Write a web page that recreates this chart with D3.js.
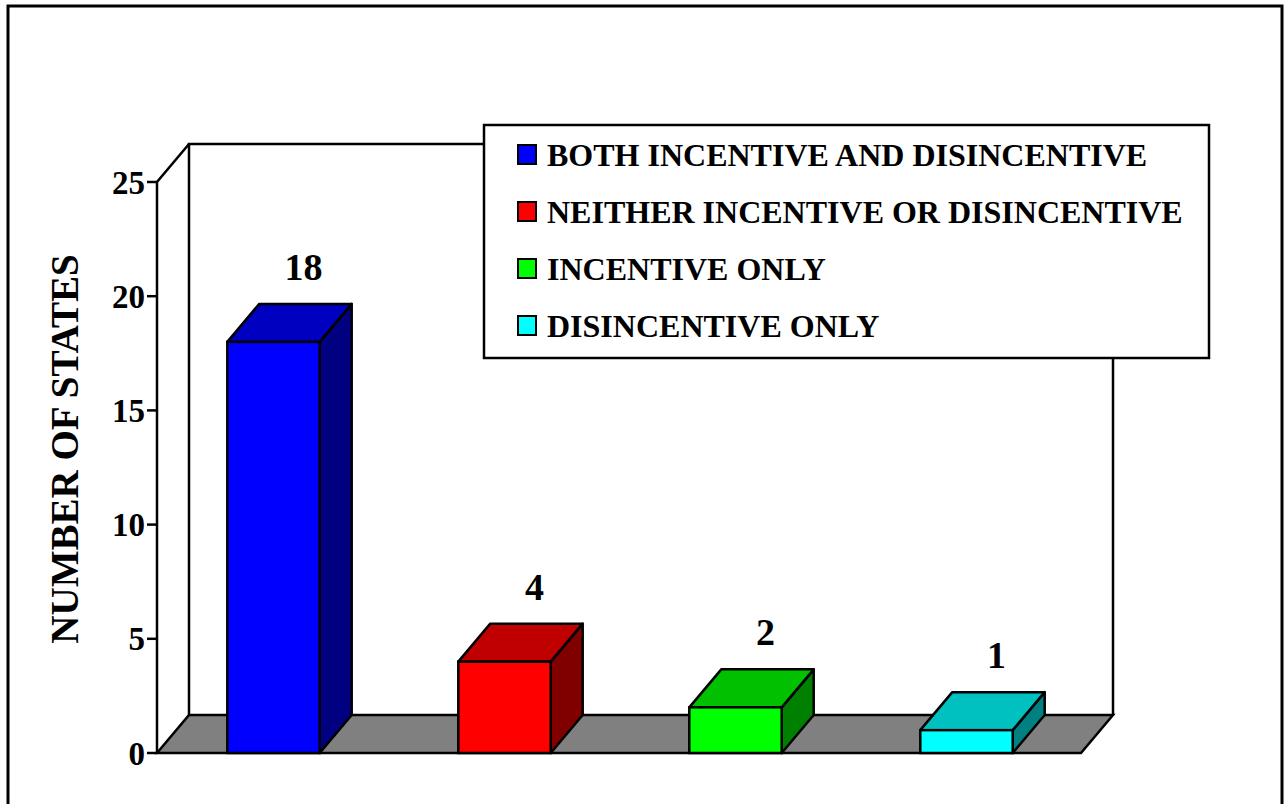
<!DOCTYPE html>
<html>
<head>
<meta charset="utf-8">
<script src="https://cdn.jsdelivr.net/npm/d3@7"></script>
<style>
  html, body { margin: 0; padding: 0; background: #fff; }
  svg { display: block; }
  text { font-family: "Liberation Serif", "Times New Roman", serif; font-weight: bold; fill: #000; }
</style>
</head>
<body>
<svg id="chart" width="1284" height="804"></svg>
<script>
// ---- data ----
const categories = ["BOTH INCENTIVE AND DISINCENTIVE", "NEITHER INCENTIVE OR DISINCENTIVE", "INCENTIVE ONLY", "DISINCENTIVE ONLY"];
const values = [18, 4, 2, 1];
const frontColors = ["#0000FF", "#FF0000", "#00FF00", "#00FFFF"];
const topColors = ["#0000C0", "#C00000", "#00C000", "#00C0C0"];
const sideColors = ["#000080", "#800000", "#008000", "#008080"];
const yTicks = [0, 5, 10, 15, 20, 25];
const yTitle = "NUMBER OF STATES";

// ---- layout ----
const svg = d3.select("#chart");
const x0 = 157, x1 = 1081, y0 = 753, yTop = 182;
const dx = 32, dy = 38;

const x = d3.scaleBand().domain(categories).range([x0 + 1, x1 + 1]).paddingInner(0.6).paddingOuter(0.3);
const y = d3.scaleLinear().domain([0, 25]).range([y0, yTop]);

// outer frame
svg.append("rect").attr("x", 8).attr("y", 6).attr("width", 1274).attr("height", 820)
  .attr("fill", "none").attr("stroke", "#000").attr("stroke-width", 3);

const g = svg.append("g");
const line = (pts) => "M" + pts.map(p => p.join(",")).join("L") + "Z";

// back wall
g.append("path")
  .attr("d", `M${x0 + dx},${y(0) - dy}L${x0 + dx},${y(25) - dy}L${x1 + dx},${y(25) - dy}L${x1 + dx},${y(0) - dy}`)
  .attr("fill", "#fff").attr("stroke", "#000").attr("stroke-width", 2.5);

// left wall edge
g.append("path")
  .attr("d", `M${x0},${y(0)}L${x0},${y(25)}L${x0 + dx},${y(25) - dy}`)
  .attr("fill", "none").attr("stroke", "#000").attr("stroke-width", 2.5);

// floor
g.append("path")
  .attr("d", line([[x0, y(0)], [x1, y(0)], [x1 + dx, y(0) - dy], [x0 + dx, y(0) - dy]]))
  .attr("fill", "#808080").attr("stroke", "#000").attr("stroke-width", 2.5).attr("stroke-linejoin", "miter");

// y axis ticks and labels
const yAxis = g.append("g");
yTicks.forEach(t => {
  yAxis.append("line").attr("x1", x0 - 10).attr("x2", x0).attr("y1", y(t)).attr("y2", y(t))
    .attr("stroke", "#000").attr("stroke-width", 2.5);
  yAxis.append("text").attr("x", x0 - 12).attr("y", y(t)).attr("dy", "0.35em")
    .attr("text-anchor", "end").attr("font-size", 33).text(t);
});

// bars
const bars = g.selectAll("g.bar").data(values).enter().append("g").attr("class", "bar");
const bw = x.bandwidth();
bars.each(function (v, i) {
  const sel = d3.select(this);
  const xl = x(categories[i]), xr = xl + bw, yt = y(v), yb = y(0);
  sel.append("path").attr("d", line([[xr, yb], [xr, yt], [xr + dx, yt - dy], [xr + dx, yb - dy]]))
    .attr("fill", sideColors[i]).attr("stroke", "#000").attr("stroke-width", 2.5).attr("stroke-linejoin", "round");
  sel.append("path").attr("d", line([[xl, yt], [xl + dx, yt - dy], [xr + dx, yt - dy], [xr, yt]]))
    .attr("fill", topColors[i]).attr("stroke", "#000").attr("stroke-width", 2.5).attr("stroke-linejoin", "round");
  sel.append("rect").attr("x", xl).attr("y", yt).attr("width", bw).attr("height", yb - yt)
    .attr("fill", frontColors[i]).attr("stroke", "#000").attr("stroke-width", 2.5);
  sel.append("text").attr("x", xl + bw / 2 + dx - 2).attr("y", yt - dy - 24)
    .attr("text-anchor", "middle").attr("font-size", 38).text(v);
});

// legend
const lg = svg.append("g");
lg.append("rect").attr("x", 484).attr("y", 125).attr("width", 725).attr("height", 233)
  .attr("fill", "#fff").attr("stroke", "#000").attr("stroke-width", 2.5);
categories.forEach((c, i) => {
  const cy = 155 + i * 57;
  lg.append("rect").attr("x", 518).attr("y", cy - 10).attr("width", 18).attr("height", 19)
    .attr("fill", frontColors[i]).attr("stroke", "#000").attr("stroke-width", 2);
  lg.append("text").attr("x", 547).attr("y", cy + 11).attr("font-size", 32).text(c);
});

// y title
svg.append("text").attr("transform", "translate(78,449) rotate(-90)")
  .attr("text-anchor", "middle").attr("font-size", 39).text(yTitle);
</script>
</body>
</html>
